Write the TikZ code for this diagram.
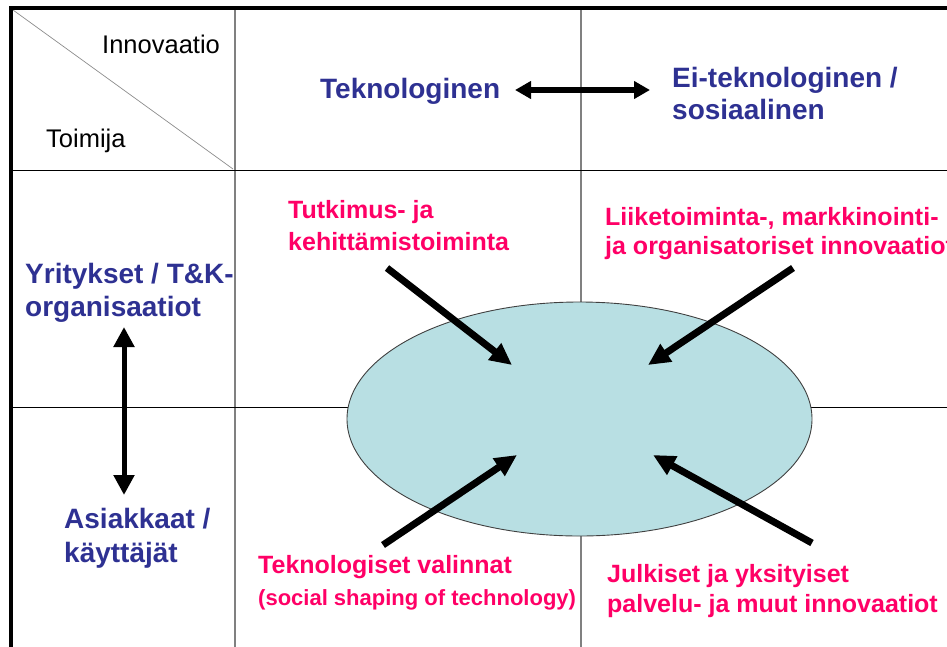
\documentclass[tikz,border=0pt]{standalone}
\usepackage{fontspec}
\setmainfont{Liberation Sans}
\usetikzlibrary{arrows.meta,shapes.geometric}
\definecolor{navy}{RGB}{46,49,146}
\definecolor{rose}{RGB}{255,0,102}
\definecolor{cellfill}{RGB}{184,223,227}
\begin{document}
\begin{tikzpicture}[x=1pt,y=-1pt,
  frame/.style={line width=4pt},
  gridv/.style={draw=black!50,line width=1.3pt},
  gridh/.style={draw=black,line width=1pt},
  diag/.style={draw=black!45,line width=0.7pt},
  axis/.style={font=\fontsize{28}{32}\selectfont\bfseries, text=navy, inner sep=0pt, anchor=base west},
  corner/.style={font=\fontsize{25.5}{28}\selectfont, inner sep=0pt, anchor=base west},
  src/.style={font=\fontsize{25}{28}\selectfont\bfseries, text=rose, inner sep=0pt, anchor=base west},
  srcsmall/.style={font=\fontsize{22}{26}\selectfont\bfseries, text=rose, inner sep=0pt, anchor=base west},
  push/.style={line width=7pt, -{Triangle[length=22pt,width=20pt]}},
  link/.style={line width=5.5pt, {Triangle[length=16pt,width=17pt]}-{Triangle[length=16pt,width=17pt]}},
  vlink/.style={line width=5pt, {Triangle[length=20pt,width=20pt]}-{Triangle[length=20pt,width=20pt]}},
  core/.style={ellipse, draw=black!75, line width=0.9pt, fill=cellfill, inner sep=0pt}
]
\useasboundingbox (0,0) rectangle (947,646);
\clip (0,0) rectangle (947,646);

% grid
\draw[gridv] (235,8) -- (235,650);
\draw[gridv] (581,8) -- (581,650);
\draw[gridh] (11,170) -- (950,170);
\draw[gridh] (11,407) -- (950,407);
\draw[diag] (13,10) -- (233,169);
\draw[frame] (9,8) -- (950,8);
\draw[frame] (11,6) -- (11,650);

% central ellipse
\node[core, minimum width=465pt, minimum height=234pt] (center) at (579.5,419) {};

% header labels
\node[corner] (innov) at (102,53) {Innovaatio};
\node[corner] (toim) at (46,147) {Toimija};
\node[axis] (tek) at (320,98) {Teknologinen};
\node[axis] (ei1) at (672,87) {Ei-teknologinen /};
\node[axis] (ei2) at (672,119) {sosiaalinen};
\node[axis] (yr1) at (25,283) {Yritykset / T\&K-};
\node[axis] (yr2) at (25,316) {organisaatiot};
\node[axis] (as1) at (64,528) {Asiakkaat /};
\node[axis] (as2) at (64,562) {käyttäjät};

% source labels
\node[src] (tk1) at (288,218) {Tutkimus- ja};
\node[src] (tk2) at (288,250) {kehittämistoiminta};
\node[src] (li1) at (605,225) {Liiketoiminta-, markkinointi-};
\node[src] (li2) at (605,254) {ja organisatoriset innovaatiot};
\node[src] (te1) at (258,573) {Teknologiset valinnat};
\node[srcsmall] (te2) at (258,605) {(social shaping of technology)};
\node[src] (ju1) at (607,582) {Julkiset ja yksityiset};
\node[src] (ju2) at (607,612) {palvelu- ja muut innovaatiot};

% arrow anchors
\coordinate (hl) at (515,90);
\coordinate (hr) at (650,90);
\coordinate (vt) at (124,327);
\coordinate (vb) at (124,495);
\coordinate (tlTail) at (387,268);
\coordinate (tlTip) at (512,365);
\coordinate (trTail) at (793,268);
\coordinate (trTip) at (648,365);
\coordinate (blTail) at (383,545);
\coordinate (blTip) at (517,455);
\coordinate (brTail) at (812,543);
\coordinate (brTip) at (653,455);

\draw[link] (hl) -- (hr);
\draw[vlink] (vt) -- (vb);
\draw[push] (tlTail) -- (tlTip);
\draw[push] (trTail) -- (trTip);
\draw[push] (blTail) -- (blTip);
\draw[push] (brTail) -- (brTip);
\end{tikzpicture}
\end{document}
